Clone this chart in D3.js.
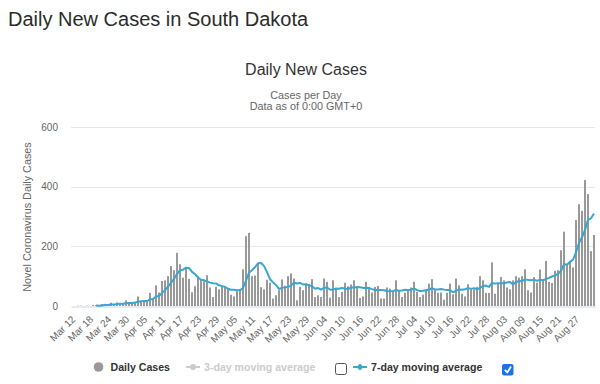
<!DOCTYPE html>
<html>
<head>
<meta charset="utf-8">
<script src="https://cdn.jsdelivr.net/npm/d3@7"></script>
<style>
    body { margin: 0; background: #fff; font-family: "Liberation Sans", Arial, sans-serif; }
    #container { position: absolute; left: 0; top: 0; }
</style>
</head>
<body>
<div id="container"></div>
<script>
// daily new cases from Mar 12 (first two days have no data)
const dailyCases = [
    null, null, 1, 1, 0, 1, 0, 3, 3, 0,
    7, 7, 2, 11, 5, 12, 6, 10, 19, 7,
    13, 13, 32, 17, 14, 20, 44, 25, 69, 45,
    84, 86, 100, 134, 120, 178, 140, 95, 131, 91,
    46, 66, 100, 88, 83, 103, 62, 30, 64, 56,
    69, 64, 60, 38, 32, 50, 57, 123, 234, 245,
    100, 102, 142, 63, 56, 88, 78, 25, 36, 53,
    89, 68, 100, 109, 92, 19, 64, 53, 75, 73,
    90, 30, 36, 30, 92, 81, 28, 86, 58, 30,
    47, 78, 66, 72, 86, 64, 27, 32, 81, 62,
    45, 64, 67, 25, 25, 62, 58, 50, 86, 53,
    30, 44, 56, 62, 81, 47, 30, 38, 55, 75,
    90, 54, 44, 45, 21, 44, 75, 39, 92, 69,
    41, 32, 73, 56, 56, 64, 100, 86, 44, 44,
    146, 41, 75, 97, 86, 62, 56, 86, 100, 95,
    100, 123, 53, 45, 97, 78, 122, 86, 151, 81,
    77, 118, 120, 187, 249, 137, 148, 129, 288, 341,
    319, 422, 375, 184, 238
];

const tickLabels = [
    "Mar 12", "Mar 18", "Mar 24", "Mar 30", "Apr 05", "Apr 11", "Apr 17", "Apr 23",
    "Apr 29", "May 05", "May 11", "May 17", "May 23", "May 29", "Jun 04", "Jun 10",
    "Jun 16", "Jun 22", "Jun 28", "Jul 04", "Jul 10", "Jul 16", "Jul 22", "Jul 28",
    "Aug 03", "Aug 09", "Aug 15", "Aug 21", "Aug 27"
];

const yTicks = [0, 200, 400, 600];
const legendLabels = ["Daily Cases", "3-day moving average", "7-day moving average"];

const firstDay = new Date(2020, 2, 12);
const formatDay = d3.timeFormat("%b %d");
const categories = d3.timeDay
    .range(firstDay, d3.timeDay.offset(firstDay, dailyCases.length))
    .map(formatDay);

// trailing 7-day average, only where the whole week has data
const avg7 = dailyCases.map((d, i) => {
    if (i < 6) return null;
    const week = dailyCases.slice(i - 6, i + 1);
    return week.includes(null) ? null : d3.mean(week);
});

const width = 600, height = 384;
const plot = { left: 71, right: 595, top: 127, bottom: 306 };
const barColor = "#999999";
const lineColor = "#38a6cf";

const svg = d3.select("#container")
    .append("svg")
    .attr("width", width)
    .attr("height", height);

svg.append("text")
    .attr("x", 8)
    .attr("y", 26)
    .attr("font-size", 20)
    .attr("fill", "#2b2b2b")
    .text("Daily New Cases in South Dakota");

svg.append("text")
    .attr("x", 306)
    .attr("y", 75)
    .attr("text-anchor", "middle")
    .attr("font-size", 16)
    .attr("fill", "#333")
    .text("Daily New Cases");

svg.append("text")
    .attr("x", 306)
    .attr("y", 98.5)
    .attr("text-anchor", "middle")
    .attr("font-size", 10.8)
    .attr("fill", "#666")
    .text("Cases per Day");

svg.append("text")
    .attr("x", 306)
    .attr("y", 110)
    .attr("text-anchor", "middle")
    .attr("font-size", 10.8)
    .attr("fill", "#666")
    .text("Data as of 0:00 GMT+0");

const xScale = d3.scaleBand()
    .domain(categories)
    .range([plot.left, plot.right])
    .paddingInner(0.33);

const yScale = d3.scaleLinear()
    .domain([0, 600])
    .range([plot.bottom, plot.top]);

// gridlines
svg.append("g")
    .selectAll("line")
    .data(yTicks.slice(1))
    .enter()
    .append("line")
    .attr("x1", plot.left)
    .attr("x2", plot.right)
    .attr("y1", d => Math.round(yScale(d)) + 0.5)
    .attr("y2", d => Math.round(yScale(d)) + 0.5)
    .attr("stroke", "#e6e6e6");

const yAxis = d3.axisLeft(yScale)
    .tickValues(yTicks)
    .tickSize(0)
    .tickPadding(13);

svg.append("g")
    .attr("transform", `translate(${plot.left},0)`)
    .call(yAxis)
    .call(g => g.select(".domain").remove())
    .selectAll("text")
    .attr("font-family", "Liberation Sans, Arial, sans-serif")
    .attr("font-size", 10)
    .attr("fill", "#666");

svg.append("text")
    .attr("transform", "translate(31,217) rotate(-90)")
    .attr("text-anchor", "middle")
    .attr("font-size", 10.8)
    .attr("fill", "#666")
    .text("Novel Coronavirus Daily Cases");

// bars
svg.append("g")
    .selectAll("rect")
    .data(dailyCases.map((v, i) => ({ c: categories[i], v: v })).filter(d => d.v != null))
    .enter()
    .append("rect")
    .attr("x", d => xScale(d.c))
    .attr("y", d => yScale(d.v))
    .attr("width", xScale.bandwidth())
    .attr("height", d => yScale(0) - yScale(d.v))
    .attr("fill", barColor);

const xAxis = d3.axisBottom(xScale)
    .tickValues(tickLabels)
    .tickSize(0)
    .tickPadding(0);

svg.append("g")
    .attr("transform", `translate(0,${plot.bottom})`)
    .call(xAxis)
    .call(g => g.select(".domain")
        .attr("stroke", "#ccd6eb")
        .attr("transform", "translate(0,0.5)"))
    .selectAll("text")
    .attr("font-family", "Liberation Sans, Arial, sans-serif")
    .attr("font-size", 10)
    .attr("fill", "#666")
    .attr("text-anchor", "end")
    .attr("dy", null)
    .attr("y", 0)
    .attr("transform", "translate(4,14) rotate(-45)");

// 7-day moving average
const line = d3.line()
    .defined(d => d.v != null)
    .x(d => xScale(d.c) + xScale.bandwidth() / 2)
    .y(d => yScale(d.v));

svg.append("path")
    .datum(avg7.map((v, i) => ({ c: categories[i], v: v })))
    .attr("d", line)
    .attr("fill", "none")
    .attr("stroke", lineColor)
    .attr("stroke-width", 2)
    .attr("stroke-linejoin", "round");

// legend
const legend = svg.append("g")
    .attr("font-size", 10.6)
    .attr("font-weight", "bold");

legend.append("circle")
    .attr("cx", 98.5)
    .attr("cy", 367)
    .attr("r", 4.8)
    .attr("fill", barColor);

legend.append("text")
    .attr("x", 110.5)
    .attr("y", 371)
    .attr("fill", "#333")
    .text(legendLabels[0]);

legend.append("line")
    .attr("x1", 186).attr("x2", 200)
    .attr("y1", 367).attr("y2", 367)
    .attr("stroke", "#cccccc")
    .attr("stroke-width", 2);

legend.append("circle")
    .attr("cx", 193)
    .attr("cy", 367)
    .attr("r", 3)
    .attr("fill", "#cccccc");

legend.append("text")
    .attr("x", 204)
    .attr("y", 371)
    .attr("fill", "#cccccc")
    .text(legendLabels[1]);

legend.append("rect")
    .attr("x", 335.5).attr("y", 363.5)
    .attr("width", 11).attr("height", 11)
    .attr("rx", 2)
    .attr("fill", "#fff")
    .attr("stroke", "#555");

legend.append("line")
    .attr("x1", 353).attr("x2", 367)
    .attr("y1", 367).attr("y2", 367)
    .attr("stroke", lineColor)
    .attr("stroke-width", 2);

legend.append("path")
    .attr("d", "M360,363.5 L363.5,367 L360,370.5 L356.5,367 Z")
    .attr("fill", lineColor);

legend.append("text")
    .attr("x", 371)
    .attr("y", 371)
    .attr("fill", "#333")
    .text(legendLabels[2]);

legend.append("rect")
    .attr("x", 502).attr("y", 364)
    .attr("width", 11.5).attr("height", 11.5)
    .attr("rx", 2)
    .attr("fill", "#1a73e8");

legend.append("path")
    .attr("d", "M504.8,369.8 L507.3,372.4 L511,366.6")
    .attr("fill", "none")
    .attr("stroke", "#fff")
    .attr("stroke-width", 1.8);
</script>
</body>
</html>
